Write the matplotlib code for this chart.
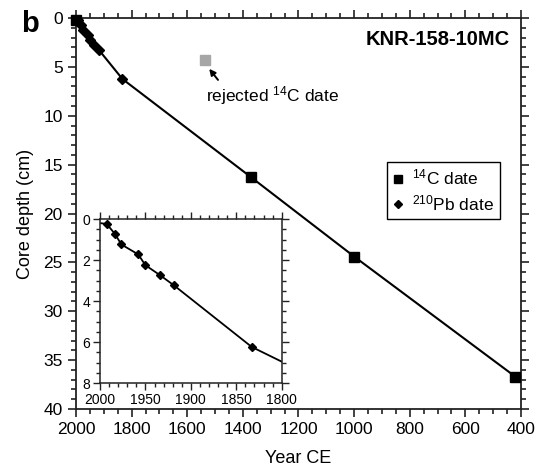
import matplotlib
matplotlib.use("Agg")
import matplotlib.pyplot as plt
from matplotlib.ticker import MultipleLocator

plt.rcParams['font.family'] = ['Liberation Sans', 'DejaVu Sans']
plt.rcParams['mathtext.fontset'] = 'custom'
plt.rcParams['mathtext.rm'] = 'Liberation Sans'

# 210Pb dates (year CE, depth cm)
pb_year = [1992.6, 1983.5, 1976.5, 1957.8, 1950.1, 1933.6, 1918.5, 1833.0]
pb_depth = [0.24, 0.73, 1.24, 1.73, 2.25, 2.75, 3.24, 6.24]

# 14C dates
c14_year = [2000, 1370, 1000, 420]
c14_depth = [0.2, 16.3, 24.4, 36.7]

# rejected 14C date
rej_year = [1535]
rej_depth = [4.3]

# age model line (through accepted dates, sorted by depth)
model = sorted(zip(pb_depth + c14_depth, pb_year + c14_year))
model_depth = [m[0] for m in model]
model_year = [m[1] for m in model]

fig = plt.figure(figsize=(5.37, 4.71), dpi=100)
ax = fig.add_axes([0.1415, 0.1316, 0.8287, 0.8302])

ax.plot(model_year, model_depth, color='black', lw=1.5, zorder=2)
ax.plot(c14_year, c14_depth, 's', color='black', ms=6.5, ls='none', zorder=3,
        clip_on=False, label=r'$\mathregular{^{14}}$C date')
ax.plot(pb_year, pb_depth, 'D', color='black', ms=5, ls='none', zorder=3,
        clip_on=False, label=r'$\mathregular{^{210}}$Pb date')
ax.plot(rej_year, rej_depth, 's', color='#a6a6a6', ms=6.5, ls='none', zorder=3)

# arrow pointing to the rejected date
ax.annotate(r'rejected $\mathregular{^{14}}$C date', xy=(1521, 5.2),
            xytext=(1531, 7.9), fontsize=12.5, ha='left', va='center',
            arrowprops=dict(arrowstyle='-|>', color='black', lw=1.4,
                            shrinkA=1, shrinkB=0, mutation_scale=9,
                            relpos=(0.11, 1.0)))

ax.set_xlim(2000, 400)
ax.set_ylim(40, 0)
ax.xaxis.set_major_locator(MultipleLocator(200))
ax.xaxis.set_minor_locator(MultipleLocator(50))
ax.yaxis.set_major_locator(MultipleLocator(5))
ax.yaxis.set_minor_locator(MultipleLocator(1))
ax.tick_params(which='both', direction='out', top=True, right=True,
               width=1.2, labelsize=12.5, color='#222222')
ax.tick_params(which='major', length=6)
ax.tick_params(which='minor', length=3.5)
for s in ax.spines.values():
    s.set_linewidth(1.3)
    s.set_color('#222222')

ax.set_xlabel('Year CE', fontsize=13, labelpad=9)
ax.set_ylabel('Core depth (cm)', fontsize=13, labelpad=7)

ax.text(0.975, 0.945, 'KNR-158-10MC', transform=ax.transAxes, ha='right',
        va='center', fontsize=14.5, fontweight='bold')
fig.text(0.04, 0.948, 'b', fontsize=21, fontweight='bold', ha='left', va='center')

leg = ax.legend(loc='upper left', bbox_to_anchor=(0.699, 0.632), borderaxespad=0,
                fontsize=12.5, fancybox=False, edgecolor='black', framealpha=1,
                handlelength=0.6, handletextpad=0.5, borderpad=0.35,
                labelspacing=0.3, markerscale=0.85)
leg.get_frame().set_linewidth(1.0)

# inset
ins = fig.add_axes([0.1862, 0.1868, 0.3384, 0.3482])
ins.plot(model_year, model_depth, color='black', lw=1.3, zorder=2)
ins.plot(pb_year, pb_depth, 'D', color='black', ms=4.5, ls='none', zorder=3)
ins.set_xlim(2000, 1800)
ins.set_ylim(8, 0)
ins.xaxis.set_major_locator(MultipleLocator(50))
ins.xaxis.set_minor_locator(MultipleLocator(10))
ins.yaxis.set_major_locator(MultipleLocator(2))
ins.yaxis.set_minor_locator(MultipleLocator(0.5))
ins.tick_params(which='both', direction='out', top=True, right=True,
                width=1.0, labelsize=10, color='#222222', pad=2)
ins.tick_params(which='major', length=5)
ins.tick_params(which='minor', length=3)
for s in ins.spines.values():
    s.set_linewidth(1.1)
    s.set_color('#222222')

fig.savefig('out.png', dpi=100)
